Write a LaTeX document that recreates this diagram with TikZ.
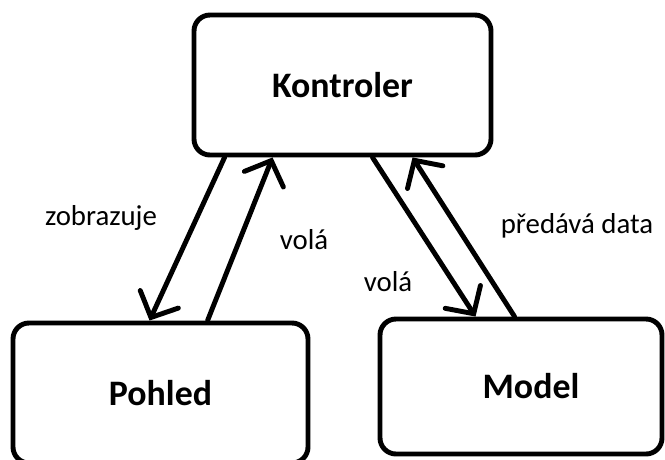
\documentclass[tikz,border=0pt]{standalone}
\usepackage{fontspec}
\setmainfont{Carlito}
\usetikzlibrary{arrows.meta}

\begin{document}
\begin{tikzpicture}[box/.style={draw, line width=3.5pt, rounded corners=0.4cm, font=\fontsize{25.5}{30}\selectfont\bfseries, inner sep=0pt},
    lbl/.style={font=\fontsize{20.5}{24}\selectfont, inner sep=0pt},
    conn/.style={line width=3.5pt, line cap=round, -{Straight Barb[length=0.5cm,width=1.05cm,line cap=round]}}]
    \useasboundingbox (0,0) rectangle (16.625,-11.475);
    \node[box, minimum width=7.425cm, minimum height=3.5cm] (kont) at (8.5625,-2.125) {Kontroler};
    \node[box, minimum width=7.375cm, minimum height=3.5cm] (pohl) at (4.0125,-9.825) {Pohled};
    \node[box, minimum width=7.05cm, minimum height=3.375cm] (model) at (13.025,-9.6625) {\hspace{0.5cm}Model};
    \draw[conn] ([xshift=0.825cm]kont.south west) -- ([xshift=3.475cm]pohl.north west);
    \draw[conn] ([xshift=4.925cm]pohl.north west) -- ([xshift=2.025cm]kont.south west);
    \draw[conn] ([xshift=4.525cm]kont.south west) -- ([xshift=2.45cm]model.north west);
    \draw[conn] ([xshift=3.425cm]model.north west) -- ([xshift=5.525cm]kont.south west);
    \node[lbl] (zobr) at (2.525,-5.45) {zobrazuje};
    \node[lbl] (vola) at (7.6,-6.0) {volá};
    \node[lbl] (volb) at (9.7,-7.05) {volá};
    \node[lbl] (pred) at (14.425,-5.65) {předává data};
  \end{tikzpicture}
\end{document}
